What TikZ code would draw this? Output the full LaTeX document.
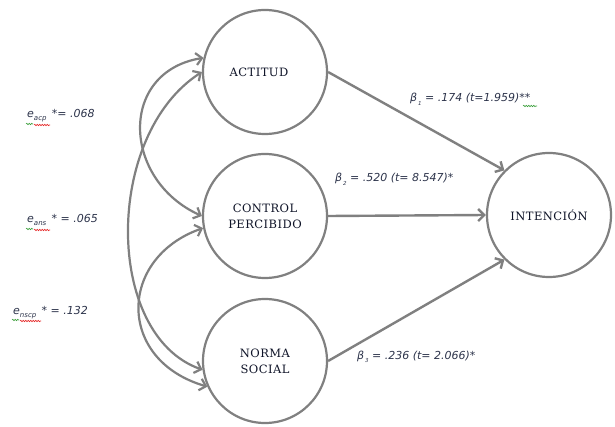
\documentclass[tikz,border=0pt]{standalone}
\usepackage{fontspec}
\setmainfont{DejaVu Serif}
\newfontfamily\lblfont{DejaVu Sans}
\newfontfamily\nodefont{DejaVu Serif}[LetterSpace=4.0]
\usetikzlibrary{arrows.meta,decorations.pathmorphing}
\definecolor{linegray}{RGB}{128,128,128}
\definecolor{lbltext}{RGB}{45,52,75}
\definecolor{nodetext}{RGB}{15,20,40}
\definecolor{squigred}{RGB}{230,40,40}
\definecolor{squiggreen}{RGB}{60,160,60}
\begin{document}
\begin{tikzpicture}[x=1pt,y=-1pt,
  construct/.style={circle,draw=linegray,line width=2.2pt,minimum size=124pt,inner sep=0pt,
    font=\nodefont\fontsize{11.5}{16}\selectfont,text=nodetext,align=center},
  path arrow/.style={draw=linegray,line width=2.4pt,-{Straight Barb[length=6pt,width=12pt]}},
  corr arrow/.style={draw=linegray,line width=2.2pt,
    {Straight Barb[length=6pt,width=12pt]}-{Straight Barb[length=6pt,width=12pt]}},
  lbl/.style={font=\lblfont\itshape\fontsize{11}{13}\selectfont,text=lbltext,inner sep=0pt,anchor=base west},
  squig/.style={decorate,decoration={snake,amplitude=0.7pt,segment length=2.5pt},line width=0.6pt}
]
\useasboundingbox[fill=white] (0,0) rectangle (615,427);

% constructs
\node[construct] (act) at (265,72) {ACTITUD\hspace*{12pt}};
\node[construct] (ctl) at (265,216) {CONTROL\\PERCIBIDO};
\node[construct] (nor) at (265,361) {NORMA\\SOCIAL};
\node[construct] (int) at (549,215) {INTENCIÓN};

% structural paths
\draw[path arrow] (act.east) -- (int.135);
\draw[path arrow] (ctl.east) -- (int.west);
\draw[path arrow] (nor.east) -- (int.225);

% correlations
\draw[corr arrow] (act.167) .. controls (118,72) and (122,180) .. (ctl.180);
\draw[corr arrow] (act.180) .. controls (104,135) and (104,335) .. (nor.188);
\draw[corr arrow] (ctl.191) .. controls (118,258) and (116,360) .. (nor.204);

% path labels
\node[lbl] (b1) at (410,102) {β\raisebox{-3.5pt}{\fontsize{5.5}{5.5}\selectfont\,1}\ = .174 (t=1.959)**};
\node[lbl] (b2) at (335,182) {β\raisebox{-3.5pt}{\fontsize{5.5}{5.5}\selectfont\,2}\ = .520 (t= 8.547)*};
\node[lbl] (b3) at (357,359) {β\raisebox{-3.5pt}{\fontsize{5.5}{5.5}\selectfont\,3}\ = .236 (t= 2.066)*};

% correlation labels
\node[lbl] (e1) at (27,118) {e\raisebox{-3pt}{\fontsize{7}{7}\selectfont acp}\ \,*= .068};
\node[lbl] (e2) at (27,223) {e\raisebox{-3pt}{\fontsize{7}{7}\selectfont ans}\ \,* = .065};
\node[lbl] (e3) at (13,314) {e\raisebox{-3pt}{\fontsize{7}{7}\selectfont nscp}\ \,* = .132};

% spell-check squiggles
\draw[squig,squigred] (34,125) -- (50,125);
\draw[squig,squiggreen] (26,124) -- (33,124);
\draw[squig,squigred] (34,230) -- (50,230);
\draw[squig,squiggreen] (26,229) -- (33,229);
\draw[squig,squigred] (20,321) -- (41,321);
\draw[squig,squiggreen] (12,320) -- (19,320);
\draw[squig,squiggreen] (523,106) -- (537,106);
\end{tikzpicture}
\end{document}
